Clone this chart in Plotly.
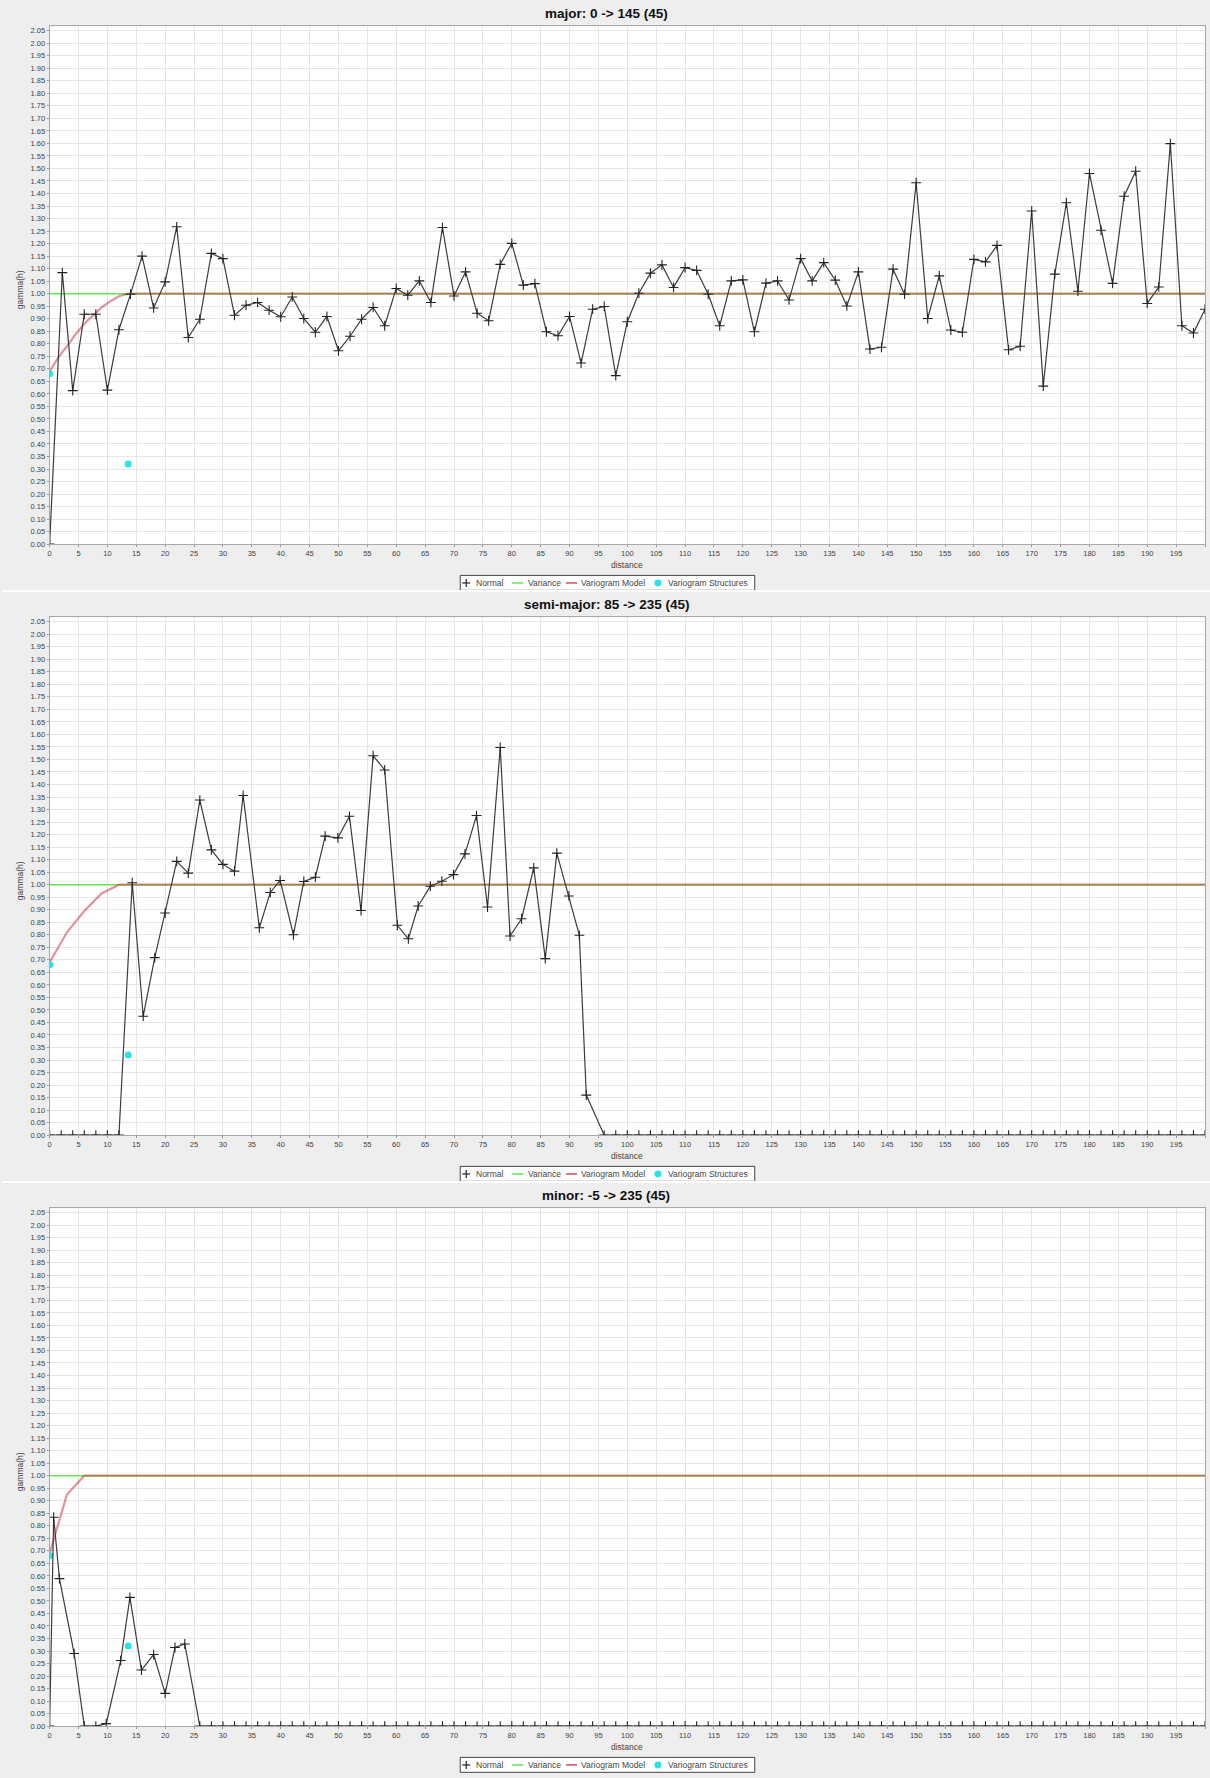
import plotly.graph_objects as go

W, H = 1210, 1778
PANEL_H = H / 3

titles = ["major: 0 -> 145 (45)", "semi-major: 85 -> 235 (45)", "minor: -5 -> 235 (45)"]

# experimental variogram, major direction
major_x = [0, 2.2] + list(range(4, 202, 2))
major_y = [0.0, 1.084, 0.613, 0.918, 0.918, 0.615, 0.856, 0.998, 1.150, 0.943, 1.047,
           1.267, 0.825, 0.898, 1.161, 1.140, 0.914, 0.954, 0.965, 0.934, 0.908,
           0.987, 0.901, 0.846, 0.909, 0.772, 0.830, 0.898, 0.945, 0.872, 1.021,
           0.994, 1.051, 0.965, 1.264, 0.991, 1.087, 0.922, 0.892, 1.117, 1.201,
           1.034, 1.040, 0.848, 0.832, 0.909, 0.723, 0.938, 0.949, 0.673, 0.888,
           1.002, 1.082, 1.115, 1.025, 1.104, 1.093, 0.998, 0.872, 1.051, 1.055,
           0.848, 1.042, 1.051, 0.975, 1.140, 1.051, 1.124, 1.054, 0.951, 1.087,
           0.779, 0.786, 1.098, 0.998, 1.443, 0.901, 1.071, 0.855, 0.846, 1.137,
           1.127, 1.193, 0.776, 0.790, 1.330, 0.631, 1.078, 1.363, 1.010, 1.480,
           1.253, 1.041, 1.389, 1.489, 0.961, 1.027, 1.599, 0.872, 0.843, 0.938]

# experimental variogram, semi-major direction
semi_x = [0, 2, 4, 6, 8, 10, 12, 14.3, 16.2, 18.2, 20, 22, 24, 26, 28, 30, 32, 33.5,
          36.3, 38.2, 39.9, 42.2, 44, 46, 47.7, 49.9, 51.9, 53.9, 56, 58, 60.2, 62.1,
          63.8, 65.9, 67.9, 69.9, 71.9, 73.9, 75.8, 78, 79.7, 81.7, 83.8, 85.8, 87.8,
          89.9, 91.7, 92.9] + list(range(96, 202, 2))
semi_y = [0, 0, 0, 0, 0, 0, 0, 1.008, 0.475, 0.709, 0.887, 1.093, 1.046, 1.338, 1.139,
          1.081, 1.054, 1.356, 0.828, 0.969, 1.017, 0.800, 1.013, 1.030, 1.194, 1.187,
          1.273, 0.897, 1.515, 1.458, 0.838, 0.784, 0.915, 0.994, 1.014, 1.040, 1.123,
          1.276, 0.911, 1.548, 0.795, 0.864, 1.067, 0.705, 1.126, 0.955, 0.798,
          0.160] + [0] * len(range(96, 202, 2))

# experimental variogram, minor direction
minor_x = [0, 0.7, 1.7, 4.25, 6, 8, 9.8, 12.3, 13.9, 15.9, 18, 20, 21.7, 23.4] + list(range(26, 202, 2))
minor_y = [0, 0.834, 0.589, 0.290, 0, 0, 0.01, 0.262, 0.514, 0.224, 0.286, 0.131,
           0.314, 0.328] + [0] * len(range(26, 202, 2))

variance_x = [0, 200]
variance_y = [1.0, 1.0]

model_major_x = [0, 1.5, 3, 4.5, 6, 7.5, 9, 10.5, 12, 13.5, 200]
model_major_y = [0.69, 0.745, 0.79, 0.838, 0.88, 0.913, 0.945, 0.97, 0.99, 1.0, 1.0]
model_semi_x = [0, 3, 6, 9, 12, 200]
model_semi_y = [0.69, 0.81, 0.895, 0.965, 1.0, 1.0]
model_minor_x = [0, 3, 6, 200]
model_minor_y = [0.69, 0.925, 1.0, 1.0]

struct_x = [0, 13.6]
struct_y = [0.68, 0.32]

legend_labels = ["Normal", "Variance", "Variogram Model", "Variogram Structures"]

panels = [
    (major_x, major_y, model_major_x, model_major_y),
    (semi_x, semi_y, model_semi_x, model_semi_y),
    (minor_x, minor_y, model_minor_x, model_minor_y),
]

VAR_COLOR = "rgb(100,228,85)"
MODEL_COLOR = "rgba(200,40,60,0.5)"
STRUCT_COLOR = "rgb(40,228,228)"
NORMAL_COLOR = "#3c3c3c"

TICK_FONT = dict(family="Liberation Sans", size=7.5, color="#444444")
LABEL_FONT = dict(family="Liberation Sans", size=8.5, color="#444444")
PLOT_LEFT, PLOT_RIGHT = 47.7, 1205.0
PLOT_TOP, PLOT_BOTTOM = 26.5, 545.7

fig = go.Figure()
layout = dict(
    width=W, height=H,
    margin=dict(l=0, r=0, t=0, b=0),
    paper_bgcolor="#eeeeee",
    plot_bgcolor="#ffffff",
    showlegend=False,
    annotations=[],
    shapes=[],
)


def py(px):
    """convert a pixel row (from top of the page) into paper y"""
    return 1 - px / H


def pxx(px):
    """convert a pixel column into paper x"""
    return px / W


def legend_box(off):
    """hand-drawn legend row beneath a panel"""
    yc = off + 584.6
    shapes = [
        dict(type="rect", xref="paper", yref="paper",
             x0=pxx(459), x1=pxx(754), y0=py(off + 592), y1=py(off + 577),
             fillcolor="#ffffff", line=dict(color="#444444", width=1)),
        # "+" key of the Normal series
        dict(type="line", xref="paper", yref="paper", x0=pxx(461), x1=pxx(469),
             y0=py(yc), y1=py(yc), line=dict(color="#222222", width=1.2)),
        dict(type="line", xref="paper", yref="paper", x0=pxx(465), x1=pxx(465),
             y0=py(yc - 4), y1=py(yc + 4), line=dict(color="#222222", width=1.2)),
        dict(type="line", xref="paper", yref="paper", x0=pxx(511), x1=pxx(522),
             y0=py(yc), y1=py(yc), line=dict(color=VAR_COLOR, width=1.5)),
        dict(type="line", xref="paper", yref="paper", x0=pxx(565), x1=pxx(576),
             y0=py(yc), y1=py(yc), line=dict(color="rgb(200,80,95)", width=1.5)),
        dict(type="circle", xref="paper", yref="paper", x0=pxx(653.5), x1=pxx(660.5),
             y0=py(yc + 3.5), y1=py(yc - 3.5), fillcolor=STRUCT_COLOR,
             line=dict(color=STRUCT_COLOR, width=0)),
    ]
    annots = []
    for label, left in zip(legend_labels, [473, 525, 578, 665]):
        annots.append(dict(text=label, x=pxx(left), xref="paper", xanchor="left",
                           y=py(yc), yref="paper", yanchor="middle", showarrow=False,
                           font=LABEL_FONT))
    return shapes, annots


for i, (gx, gy, mx, my) in enumerate(panels):
    off = i * PANEL_H
    n = "" if i == 0 else str(i + 1)
    xa, ya = "x" + n, "y" + n

    fig.add_trace(go.Scatter(
        x=variance_x, y=variance_y, mode="lines", name=legend_labels[1],
        line=dict(color=VAR_COLOR, width=1.5), xaxis=xa, yaxis=ya))
    fig.add_trace(go.Scatter(
        x=mx, y=my, mode="lines", name=legend_labels[2],
        line=dict(color=MODEL_COLOR, width=2.2), xaxis=xa, yaxis=ya))
    fig.add_trace(go.Scatter(
        x=struct_x, y=struct_y, mode="markers", name=legend_labels[3],
        marker=dict(color=STRUCT_COLOR, size=7), xaxis=xa, yaxis=ya))
    fig.add_trace(go.Scatter(
        x=gx, y=gy, mode="lines+markers", name=legend_labels[0],
        line=dict(color=NORMAL_COLOR, width=1.2),
        marker=dict(symbol="cross-thin", size=7, line=dict(color="#222222", width=1.1)),
        xaxis=xa, yaxis=ya))

    layout["xaxis" + n] = dict(
        domain=[PLOT_LEFT / W, PLOT_RIGHT / W], anchor=ya,
        range=[0, 200.001], tick0=0, dtick=5, tickfont=TICK_FONT,
        ticks="outside", ticklen=2, tickcolor="#999999",
        showgrid=True, gridcolor="#e6e6e6", gridwidth=1,
        showline=True, linecolor="#a8a8a8", mirror=True, zeroline=False,
    )
    layout["yaxis" + n] = dict(
        domain=[py(off + PLOT_BOTTOM), py(off + PLOT_TOP)], anchor=xa,
        range=[0, 2.067], tick0=0, dtick=0.05, tickformat=".2f", tickfont=TICK_FONT,
        ticks="outside", ticklen=2, tickcolor="#999999",
        showgrid=True, gridcolor="#e6e6e6", gridwidth=1,
        showline=True, linecolor="#a8a8a8", mirror=True, zeroline=False,
    )

    shp, ann = legend_box(off)
    layout["shapes"] += shp
    layout["annotations"] += ann
    layout["annotations"] += [
        dict(text="<b>" + titles[i] + "</b>", x=0.5, xref="paper", xanchor="center",
             y=py(off + 14), yref="paper", yanchor="middle", showarrow=False,
             font=dict(family="Liberation Sans", size=13.5, color="#111111")),
        dict(text="distance", x=(PLOT_LEFT + PLOT_RIGHT) / 2 / W, xref="paper", xanchor="center",
             y=py(off + 567), yref="paper", yanchor="middle", showarrow=False,
             font=LABEL_FONT),
        dict(text="gamma(h)", x=18 / W, xref="paper", xanchor="center",
             y=py(off + 290), yref="paper", yanchor="middle", showarrow=False, textangle=-90,
             font=LABEL_FONT),
    ]
    if i > 0:
        layout["shapes"].append(dict(
            type="line", xref="paper", yref="paper", x0=0, x1=1,
            y0=py(off), y1=py(off), line=dict(color="#ffffff", width=2)))

fig.update_layout(**layout)
fig.write_html("out.html")
